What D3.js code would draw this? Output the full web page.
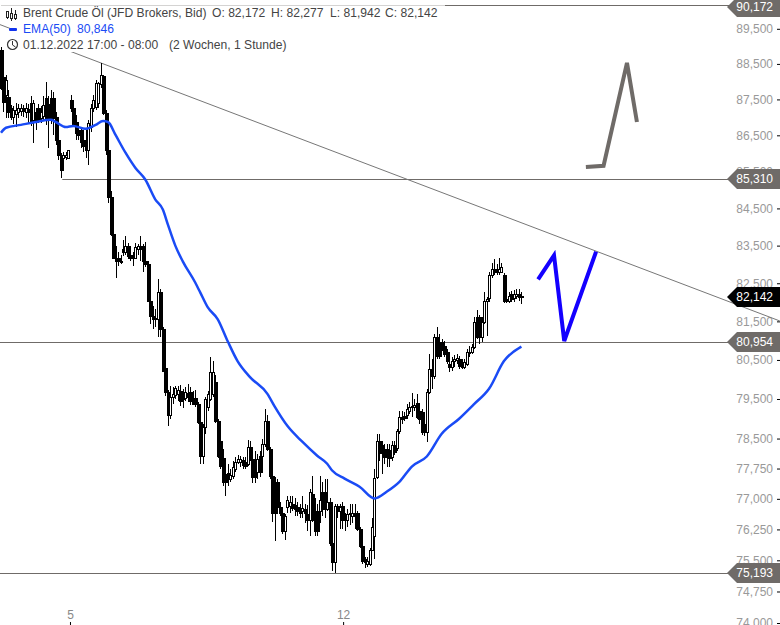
<!DOCTYPE html>
<html>
<head>
<meta charset="utf-8">
<script src="https://cdn.jsdelivr.net/npm/d3@7"></script>
<style>
  html, body { margin: 0; padding: 0; background: #fff; }
  text { font-family: "Liberation Sans", Arial, sans-serif; font-size: 12px; }
</style>
</head>
<body>
<div id="chart"></div>
<script>
/* Brent crude hourly candles, EMA(50), trend lines and hand-drawn arrows */

// hourly candles
const opens = [
  88.90,88.13,87.63,87.57,87.26,87.01,87.10,87.15,87.18,87.26,
  87.15,87.24,87.41,86.93,87.15,87.26,86.99,87.04,87.55,87.38,
  87.55,87.55,87.01,86.38,85.96,85.88,85.91,85.88,87.49,87.26,
  86.87,86.65,86.65,86.38,86.38,86.10,86.73,87.26,87.29,87.41,
  87.93,88.16,87.12,86.10,84.82,83.80,83.18,83.18,83.08,83.40,
  83.32,83.50,83.26,83.26,83.18,83.42,83.48,83.48,83.08,83.00,
  82.03,81.64,81.56,81.56,82.26,81.30,80.29,79.68,79.10,79.55,
  79.60,79.63,79.71,79.63,79.53,79.65,79.68,79.50,79.53,79.37,
  78.92,78.07,78.80,79.30,79.50,79.63,79.94,78.95,78.45,78.02,
  77.62,77.65,77.50,77.57,77.75,77.92,77.92,77.97,77.92,77.87,
  78.30,78.00,78.00,77.67,78.07,78.07,78.37,78.95,78.25,77.57,
  77.42,77.42,76.81,76.64,76.20,76.81,76.83,76.88,76.86,76.81,
  76.76,76.69,76.76,76.62,76.47,77.13,76.69,76.69,76.69,77.18,
  77.18,76.76,76.93,75.91,75.47,76.83,76.71,76.83,76.52,76.47,
  76.62,76.59,76.64,76.64,76.27,75.84,75.52,75.42,75.42,75.74,
  76.08,77.55,78.45,78.33,78.25,78.25,78.22,78.05,78.33,78.27,
  78.70,79.05,79.07,79.10,79.20,79.30,79.30,79.40,79.20,79.17,
  78.87,78.67,79.68,80.27,80.09,81.09,80.96,80.96,80.86,80.70,
  80.39,80.32,80.47,80.49,80.52,80.44,80.32,80.39,80.68,80.70,
  80.83,81.61,81.61,81.09,81.48,82.03,82.10,82.73,82.89,82.87,
  82.79,82.81,82.71,82.08,82.03,82.21,82.10,82.16,82.23,82.172
];
const highs = [
  88.99,88.33,88.19,87.77,87.35,87.32,87.41,87.38,87.38,87.35,
  87.41,87.38,87.60,87.49,87.26,87.38,87.32,87.60,87.99,87.60,
  87.77,87.71,87.15,86.51,86.02,86.05,86.05,86.10,87.63,87.32,
  87.07,86.79,86.71,86.65,86.65,86.93,87.38,87.63,88.05,87.99,
  88.53,88.19,87.21,86.16,84.96,83.88,83.48,83.32,83.26,83.66,
  83.77,83.58,83.50,83.32,83.56,83.53,83.77,83.53,83.61,83.08,
  82.08,81.90,81.82,82.60,82.34,81.35,80.32,79.73,79.84,79.81,
  79.84,79.84,79.86,79.76,79.81,79.89,79.81,79.71,79.73,79.42,
  79.00,78.87,79.55,79.71,80.57,80.47,80.11,79.00,78.50,78.25,
  77.75,77.87,77.75,77.95,78.05,78.10,78.07,78.05,78.05,78.47,
  78.45,78.10,78.20,78.12,78.20,78.50,79.25,79.10,78.30,77.62,
  77.55,77.50,76.93,76.76,76.62,77.08,77.06,77.06,77.01,76.91,
  76.88,77.08,76.88,76.86,77.25,77.57,77.01,76.88,77.57,77.42,
  77.50,77.50,77.01,75.96,76.88,76.88,76.88,76.91,76.64,76.76,
  76.88,76.88,76.88,76.69,76.32,75.89,75.59,75.57,75.79,76.52,
  77.75,78.62,78.62,78.45,78.37,78.37,78.37,78.43,78.43,78.75,
  79.20,79.20,79.17,79.37,79.42,79.65,79.50,79.63,79.30,79.25,
  78.95,79.76,80.65,80.52,81.17,81.35,81.17,81.04,80.99,80.78,
  80.52,80.57,80.62,80.65,80.60,80.52,80.52,80.78,80.86,80.91,
  81.61,81.79,81.66,81.61,82.26,82.13,82.81,83.05,83.13,83.00,
  83.18,83.03,82.76,82.18,82.26,82.29,82.31,82.36,82.34,82.277
];
const lows = [
  87.77,87.15,86.99,86.99,86.93,86.82,86.73,86.99,87.04,87.01,
  86.99,86.82,86.76,86.30,86.65,86.85,86.85,86.93,86.79,86.16,
  86.82,86.51,86.24,85.83,85.33,85.55,85.83,85.88,87.15,86.76,
  86.38,86.38,86.16,86.05,85.88,85.69,86.60,87.15,87.21,87.26,
  87.83,87.07,85.96,84.66,83.77,83.13,82.65,82.95,83.00,83.21,
  83.26,83.13,83.08,82.95,83.13,83.26,83.08,82.79,82.92,82.00,
  81.43,81.30,81.35,81.09,81.09,80.19,79.58,78.82,79.00,79.37,
  79.50,79.45,79.32,79.27,79.45,79.42,79.35,79.37,79.30,78.87,
  77.87,77.87,78.62,79.20,79.45,79.55,78.90,78.02,77.75,77.32,
  77.08,77.32,77.42,77.50,77.67,77.87,77.80,77.75,77.75,77.82,
  77.95,77.38,77.38,77.50,77.55,77.95,78.30,78.20,77.50,76.44,
  75.96,76.76,76.57,76.13,76.00,76.64,76.64,76.71,76.59,76.59,
  76.52,76.52,76.40,76.20,76.08,76.42,76.10,76.08,76.40,76.57,
  76.52,76.69,75.84,75.23,75.20,76.52,76.27,76.27,76.22,76.32,
  76.37,76.40,76.27,76.22,75.79,75.40,75.32,75.35,75.37,75.72,
  75.54,77.50,77.95,77.62,77.87,77.80,77.80,77.95,78.10,78.20,
  78.62,78.87,78.95,79.00,79.12,79.05,79.20,79.00,78.87,78.60,
  78.57,78.42,79.63,79.76,80.01,80.52,80.52,80.73,80.57,80.39,
  80.19,80.22,80.32,80.39,80.27,80.27,80.27,80.34,80.57,80.65,
  80.78,81.04,80.91,80.96,81.43,81.12,82.00,82.65,82.71,82.71,
  82.71,82.76,81.98,81.98,81.98,82.00,82.00,82.08,82.03,81.942
];
const closes = [
  87.83,87.43,88.05,87.15,87.01,87.21,87.21,87.26,87.26,87.18,
  87.26,87.15,86.85,87.41,86.87,86.93,87.15,87.35,86.99,86.93,
  86.93,86.99,86.38,85.96,85.55,85.96,85.96,86.10,87.26,86.82,
  86.57,86.51,86.32,86.21,86.10,86.85,87.26,87.49,87.96,87.96,
  88.19,87.12,86.10,84.82,83.80,83.18,83.10,83.10,83.10,83.32,
  83.48,83.21,83.18,83.16,83.45,83.48,83.42,83.08,83.00,82.03,
  81.64,81.56,81.59,82.26,81.30,80.22,79.68,79.10,79.55,79.63,
  79.78,79.73,79.45,79.50,79.68,79.55,79.45,79.37,79.37,78.92,
  78.07,78.80,79.50,79.63,80.19,80.19,78.95,78.07,77.82,77.42,
  77.42,77.50,77.60,77.80,77.92,78.00,78.00,77.85,77.82,78.30,
  78.00,77.55,77.55,78.00,77.67,78.37,78.95,78.25,77.57,76.64,
  76.64,76.81,76.64,76.22,76.59,76.96,76.93,76.78,76.74,76.69,
  76.66,76.78,76.64,76.47,77.18,76.47,76.22,76.20,76.96,76.76,
  76.76,76.93,75.91,75.47,76.83,76.69,76.81,76.47,76.47,76.62,
  76.64,76.64,76.59,76.27,75.84,75.49,75.47,75.49,75.74,76.32,
  77.52,78.45,78.13,78.20,78.05,78.05,78.02,78.33,78.17,78.70,
  79.05,79.00,79.02,79.25,79.30,79.32,79.35,79.05,79.00,78.67,
  78.67,79.68,80.27,80.09,81.09,80.60,80.60,80.83,80.65,80.47,
  80.32,80.47,80.52,80.55,80.34,80.32,80.44,80.70,80.70,80.83,
  81.48,81.09,81.09,81.48,82.03,82.08,82.73,82.89,82.79,82.79,
  82.87,82.92,82.03,82.03,82.16,82.08,82.21,82.23,82.13,82.142
];

// EMA(50) read at a coarser set of hours
const emaHours = [0,2,8,14,20,22,26,29,34,38,41,43,46,50,54,58,62,65,67,70,73,78,80,83,87,91,95,100,107,110,115,121,127,131,133,138,144,150,155,160,165,171,177,184,190,196,202,209];
const emaValues = [86.57,86.71,86.79,86.87,86.93,86.87,86.73,86.76,86.68,86.79,86.90,86.87,86.51,86.02,85.60,85.28,84.74,84.47,84.07,83.50,83.08,82.52,82.26,81.87,81.56,80.99,80.47,80.06,79.63,79.30,78.82,78.42,78.07,77.87,77.70,77.50,77.30,77.01,77.18,77.42,77.80,78.05,78.62,79.00,79.37,79.76,80.47,80.846];

// drawn lines: hour positions and prices
const blueHours = [215.7,222.1,226.2,239.0];
const bluePrices = [82.60,83.24,80.99,83.34];
const grayHours = [234.9,242.0,251.4,255.4];
const grayPrices = [85.63,85.66,88.53,86.87];
const trendHours = [-0.4,312.8];
const trendPrices = [89.62,81.51];

// horizontal levels and where they start
const levelValues = [90.172,85.310,80.954,75.193];
const levelStarts = [0,24.6,-1,-1];
const lastPrice = 82.142;

const priceTicks = [89.5,88.5,87.5,86.5,85.5,84.5,83.5,82.5,81.5,80.5,79.5,78.5,77.75,77,76.25,75.5,74.75,74];
const dayTicks = [27.7,137.4];
const dayLabels = ["5","12"];

const headerTitle = "Brent Crude Öl (JFD Brokers, Bid)";
const headerOhlc = ["O: 82,172","H: 82,277","L: 81,942","C: 82,142"];

const width = 780, height = 625;
const grey = "#6f6b68", emaBlue = "#1a4bf5";

const price3 = d3.formatLocale({decimal: ",", thousands: ".", grouping: [3], currency: ["", ""]}).format(".3f");

let svg = d3.select("#chart")
    .append("svg")
    .attr("width", width)
    .attr("height", height)
    .style("display", "block");

let x = d3.scaleLinear()
    .domain([0, opens.length - 1])
    .range([1, 521.4]);

let y = d3.scaleLog()
    .domain([89.5, 74])
    .range([28.8, 623]);

const snap = v => Math.floor(v + 0.55);
const crisp = v => snap(v) + 0.5;

// axes
const yAxis = g => g
    .attr("transform", `translate(${width},0)`)
    .call(d3.axisLeft(y).tickValues(priceTicks).tickFormat(price3).tickSize(3).tickPadding(4))
    .call(g => g.select(".domain").remove())
    .call(g => g.selectAll("text").attr("fill", "#999").style("font-size", "12px"))
    .call(g => g.selectAll("line").attr("stroke", "#000").attr("stroke-width", 1));

const xAxis = g => g
    .attr("transform", `translate(0,${height})`)
    .call(d3.axisTop(x).tickValues(dayTicks).tickFormat((d, i) => dayLabels[i]).tickSize(3).tickPadding(3))
    .call(g => g.select(".domain").remove())
    .call(g => g.selectAll("text").attr("fill", "#888").style("font-size", "12px"))
    .call(g => g.selectAll("line").attr("stroke", "#000"));

svg.append("g").call(yAxis);
svg.append("g").call(xAxis);

// levels and trend line
svg.append("g").selectAll("line")
    .data(levelValues)
    .join("line")
    .attr("x1", (d, i) => levelStarts[i] < 0 ? 0 : x(levelStarts[i]))
    .attr("x2", 730)
    .attr("y1", d => crisp(y(d)))
    .attr("y2", d => crisp(y(d)))
    .attr("stroke", grey)
    .attr("stroke-width", 1);

svg.append("line")
    .attr("x1", x(trendHours[0])).attr("y1", y(trendPrices[0]))
    .attr("x2", x(trendHours[1])).attr("y2", y(trendPrices[1]))
    .attr("stroke", "#777")
    .attr("stroke-width", 1);

// candles
let candle = svg.append("g")
    .attr("shape-rendering", "crispEdges")
    .selectAll("g")
    .data(d3.range(opens.length))
    .join("g");

candle.append("line")
    .attr("x1", i => Math.round(x(i)) + 0.5)
    .attr("x2", i => Math.round(x(i)) + 0.5)
    .attr("y1", i => y(highs[i]))
    .attr("y2", i => y(lows[i]))
    .attr("stroke", "#000");

// down candles first so the white bodies stay visible
candle.filter(i => closes[i] < opens[i]).append("rect")
    .attr("x", i => Math.round(x(i)) - 0.5)
    .attr("width", 3)
    .attr("y", i => Math.round(y(opens[i])) + 0.5)
    .attr("height", i => Math.max(1, Math.round(y(closes[i])) - Math.round(y(opens[i]))))
    .attr("fill", "#000")
    .attr("stroke", "#000");

candle.filter(i => closes[i] >= opens[i]).append("rect")
    .attr("x", i => Math.round(x(i)) - 0.5)
    .attr("width", 2)
    .attr("y", i => Math.round(y(closes[i])) + 0.5)
    .attr("height", i => Math.max(1, Math.round(y(opens[i])) - Math.round(y(closes[i]))))
    .attr("fill", "#fff")
    .attr("stroke", "#000");

// EMA and the two sketched paths
const path = d3.line().x(d => x(d[0])).y(d => y(d[1]));

svg.append("path")
    .attr("d", d3.line().x(d => x(d[0])).y(d => y(d[1])).curve(d3.curveMonotoneX)(d3.zip(emaHours, emaValues)))
    .attr("fill", "none")
    .attr("stroke", emaBlue)
    .attr("stroke-width", 2.5);

svg.append("path")
    .attr("d", path(d3.zip(blueHours, bluePrices)))
    .attr("fill", "none")
    .attr("stroke", "#1400ff")
    .attr("stroke-width", 4);

svg.append("path")
    .attr("d", path(d3.zip(grayHours, grayPrices)))
    .attr("fill", "none")
    .attr("stroke", grey)
    .attr("stroke-width", 4);

// price badges on the right, the top one stays on the page
const badges = levelValues.map(v => ({v: v, fill: grey})).concat([{v: lastPrice, fill: "#000"}]);

let badge = svg.append("g").selectAll("g")
    .data(badges)
    .join("g")
    .attr("transform", d => `translate(0,${Math.max(7, snap(y(d.v)))})`);

badge.append("path")
    .attr("d", "M727,0L737,-10H780V10H737Z")
    .attr("fill", d => d.fill);

badge.append("text")
    .attr("x", 773)
    .attr("dy", "0.35em")
    .attr("text-anchor", "end")
    .attr("fill", "#fff")
    .text(d => price3(d.v));

// legend covers the lines behind it
let legend = svg.append("g");

legend.append("rect").attr("x", 0).attr("y", 4).attr("width", 445).attr("height", 2).attr("fill", "#fff").attr("opacity", 0.7);
legend.append("rect").attr("x", 0).attr("y", 6).attr("width", 445).attr("height", 15).attr("fill", "#fff");
legend.append("rect").attr("x", 13).attr("y", 21).attr("width", 105).attr("height", 16).attr("fill", "#fff");
legend.append("rect").attr("x", 5).attr("y", 37).attr("width", 285).attr("height", 15).attr("fill", "#fff");

const legendText = (tx, ty, str, fill) => legend.append("text")
    .attr("x", tx).attr("y", ty).attr("fill", fill).style("font-size", "12.1px").text(str);

legendText(23, 17, headerTitle, "#444");
[212, 271, 330, 385].forEach((tx, i) => legendText(tx, 17, headerOhlc[i], "#444"));
legendText(23, 33, "EMA(50)", emaBlue);
legendText(77, 33, "80,846", emaBlue);
legendText(23, 49, "01.12.2022 17:00 - 08:00", "#444");
legendText(169, 49, "(2 Wochen, 1 Stunde)", "#444");

// small candle icon, dash and clock
let icon = legend.append("g").attr("stroke", "#222").attr("fill", "none").attr("shape-rendering", "crispEdges");
[[7.5, 11, 19, 9, 17], [11.5, 8, 21, 11, 18], [15.5, 10, 20, 12, 18]].forEach(c => {
    icon.append("line").attr("x1", c[0]).attr("x2", c[0]).attr("y1", c[1]).attr("y2", c[2]);
    icon.append("rect").attr("x", c[0] - 1).attr("y", c[3] + 2).attr("width", 2).attr("height", c[4] - c[3] - 2).attr("fill", "#fff");
});
legend.append("rect").attr("x", 9).attr("y", 28).attr("width", 8).attr("height", 3).attr("rx", 1).attr("fill", "#1133ee");
legend.append("circle").attr("cx", 12.5).attr("cy", 44.5).attr("r", 5).attr("fill", "none").attr("stroke", "#333").attr("stroke-width", 1.2);
legend.append("path").attr("d", "M12.5,41V45L15.5,47").attr("fill", "none").attr("stroke", "#333");
</script>
</body>
</html>
